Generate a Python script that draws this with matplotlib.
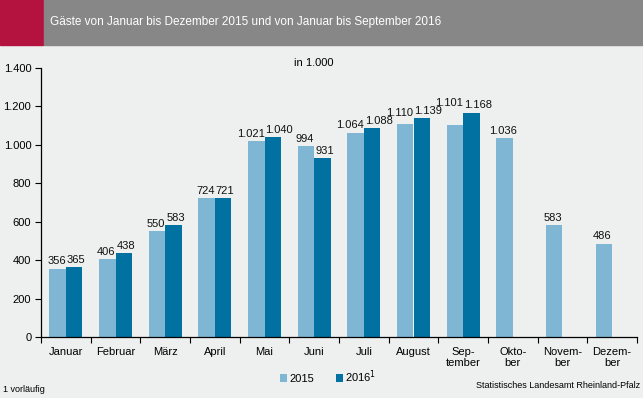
import numpy as np
import matplotlib.pyplot as plt
from matplotlib.patches import Rectangle

plt.rcParams['font.family'] = ['Liberation Sans', 'DejaVu Sans']
plt.rcParams['font.size'] = 8

months = ['Januar', 'Februar', 'März', 'April', 'Mai', 'Juni', 'Juli', 'August',
          'Sep-\ntember', 'Okto-\nber', 'Novem-\nber', 'Dezem-\nber']
gaeste_2015 = [356, 406, 550, 724, 1021, 994, 1064, 1110, 1101, 1036, 583, 486]
gaeste_2016 = [365, 438, 583, 721, 1040, 931, 1088, 1139, 1168]
yticks = [0, 200, 400, 600, 800, 1000, 1200, 1400]

light = '#7fb6d3'
dark = '#0071a1'
bg = '#eeefef'


def de_fmt(v):
    return f'{v:,}'.replace(',', '.')


fig = plt.figure(figsize=(6.43, 3.98), dpi=100, facecolor=bg)

# header band
fig.patches.append(Rectangle((0, 1 - 45 / 398), 43 / 643, 45 / 398,
                             transform=fig.transFigure, color='#b5133f', zorder=0))
fig.patches.append(Rectangle((44 / 643, 1 - 45 / 398), 1, 45 / 398,
                             transform=fig.transFigure, color='#878787', zorder=0))
fig.text(50 / 643, 1 - 22 / 398, 'Gäste von Januar bis Dezember 2015 und von Januar bis September 2016',
         color='white', fontsize=8.5, ha='left', va='center')

ax = fig.add_axes([41 / 643, 1 - 337 / 398, 596 / 643, (337 - 68) / 398])
ax.set_facecolor(bg)

x = np.arange(len(months))
w = 0.335
b1 = ax.bar(x[:len(gaeste_2015)] - w / 2, gaeste_2015, w, color=light, label='2015')
b2 = ax.bar(x[:len(gaeste_2016)] + w / 2, gaeste_2016, w, color=dark, label='2016$^{1}$')

# value labels: pushed outward when both bars exist, centred otherwise
lab15, lab16 = [], []
for i, v in enumerate(gaeste_2015):
    if i < len(gaeste_2016):
        t = ax.text(x[i], v + 12, de_fmt(v), ha='right', va='bottom', fontsize=8, color='#111111')
    else:
        t = ax.text(x[i] - w / 2 - 0.03, v + 12, de_fmt(v), ha='center', va='bottom',
                    fontsize=8, color='#111111')
    lab15.append(t)
for i, v in enumerate(gaeste_2016):
    lab16.append(ax.text(x[i] + 0.02, v + 12, de_fmt(v), ha='left', va='bottom',
                         fontsize=8, color='#111111'))

ax.set_xlim(-0.5, len(months) - 0.5)
ax.set_ylim(0, 1400)
ax.set_yticks(yticks)
ax.set_yticklabels([de_fmt(v) for v in yticks])
ax.set_xticks(x)
ax.set_xticklabels(months, linespacing=1.1)
ax.set_xticks(np.arange(len(months) + 1) - 0.5, minor=True)
ax.tick_params(axis='x', which='major', length=0, pad=7)
ax.tick_params(axis='x', which='minor', length=4, width=0.8, direction='out')
ax.tick_params(axis='y', length=4, width=0.8, direction='out', pad=3)
for s in ('top', 'right'):
    ax.spines[s].set_visible(False)
for s in ('left', 'bottom'):
    ax.spines[s].set_linewidth(0.9)

# lift a 2015 label above the neighbouring 2016 label when they collide
fig.canvas.draw()
r = fig.canvas.get_renderer()
for i in range(1, len(lab15)):
    if i - 1 >= len(lab16):
        continue
    a = lab15[i].get_window_extent(r)
    b = lab16[i - 1].get_window_extent(r)
    if a.x0 < b.x1 - 1 and a.y0 < b.y1 and a.y1 > b.y0:
        dy_px = b.y1 - a.y0 - 2
        inv = ax.transData.inverted()
        y0 = inv.transform((0, a.y0))[1]
        y1 = inv.transform((0, a.y0 + dy_px))[1]
        xx, yy = lab15[i].get_position()
        lab15[i].set_position((xx, yy + (y1 - y0)))

fig.text(314 / 643, 1 - 63 / 398, 'in 1.000', ha='center', va='center', fontsize=8)

leg = fig.legend(handles=[b1, b2], loc='center', bbox_to_anchor=(328 / 643, 1 - 377 / 398),
                 ncol=2, frameon=False, fontsize=8, handlelength=0.6, handleheight=0.6,
                 handletextpad=0.2, columnspacing=2.0)

fig.text(3 / 643, 1 - 390 / 398, '1 vorläufig', ha='left', va='center', fontsize=6.5)
fig.text(640 / 643, 1 - 386 / 398, 'Statistisches Landesamt Rheinland-Pfalz',
         ha='right', va='center', fontsize=6.5)

fig.savefig('out.png', dpi=100, facecolor=bg)
